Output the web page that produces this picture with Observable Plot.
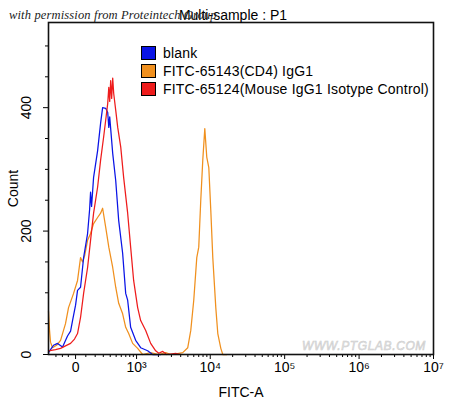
<!DOCTYPE html>
<html><head><meta charset="utf-8">
<script src="https://cdn.jsdelivr.net/npm/d3@7"></script>
<script src="https://cdn.jsdelivr.net/npm/@observablehq/plot@0.6"></script>
<style>
body{margin:0;background:#fff;}
#wrap{position:relative;width:450px;height:398px;font-family:"Liberation Sans",Arial,sans-serif;}
.wm{position:absolute;left:9px;top:8px;font-family:"Liberation Serif","DejaVu Serif",serif;font-style:italic;font-size:12.5px;color:#222;white-space:nowrap;letter-spacing:0.15px;}
.site{position:absolute;left:302px;top:339px;font-family:"Liberation Sans",Arial,sans-serif;font-style:italic;font-size:12px;color:#e6e6e6;-webkit-text-stroke:0.5px #cacaca;white-space:nowrap;letter-spacing:0.6px;}
.legend{position:absolute;left:141px;top:44px;font-size:14px;letter-spacing:0.2px;color:#000;}
.legend .row{height:18px;display:flex;align-items:center;white-space:nowrap;}
.legend .sw{width:13px;height:12px;border:1px solid #000;margin-right:7px;box-sizing:content-box;}
</style></head><body><div id="wrap"></div>
<script>
// ---- data (FITC-A intensity vs event count) ----
const seriesNames = ["blank", "FITC-65143(CD4) IgG1", "FITC-65124(Mouse IgG1 Isotype Control)"];
const seriesColors = ["#0a14e6", "#f0901e", "#ee1c1c"];

const blankFITC  = [-291,-265,-228,-182,-128,-78,-48,-29,0,19,48,78,118,139,149,160,182,228,265,291,333,362,378,392,440,492,548,629,698,746,824,971,1141,1425,1668,2148];
const blankCount = [3,8,15,18,12,30,38,55,80,104,109,157,196,235,263,240,287,330,375,400,399,392,368,385,326,282,217,164,99,88,44,23,11,6,0,0];

const cd4FITC  = [-291,-278,-265,-240,-193,-149,-98,-68,-19,19,48,68,88,118,149,182,228,265,291,333,378,440,492,548,629,698,772,880,1036,1215,1568,2021,2512,2946,3770,4266,4982,5472,6000,6590,7006,7456,7936,8448,8975,9564,10168,10819,11873,12633,13870,14741,16700];
const cd4Count = [70,40,20,11,15,23,50,76,99,120,157,150,160,185,196,212,222,229,237,206,174,141,109,83,66,44,34,18,10,0,3,0,3,0,2,3,11,39,88,157,174,250,315,366,320,303,234,157,76,34,10,0,0];

const isoFITC  = [-291,-205,-149,-98,-48,-10,19,48,78,118,149,182,228,265,304,333,362,378,392,407,423,440,457,492,529,589,651,746,824,909,1036,1141,1340,1568,1835,2021,2291,2592,3432,4015];
const isoCount = [6,8,10,14,18,25,34,60,99,141,185,229,271,315,352,380,407,433,410,444,415,448,423,396,368,336,287,229,174,120,76,55,39,18,6,2,5,0,2,0];

const xMajor = [0, 1e3, 1e4, 1e5, 1e6, 1e7];
const xMajorLabels = ["0", "10³", "10⁴", "10⁵", "10⁶", "10⁷"];
const xMinor = [-200,-130,-70,100,200,300,400,500,600,700,800,900,
  2e3,3e3,4e3,5e3,6e3,7e3,8e3,9e3, 2e4,3e4,4e4,5e4,6e4,7e4,8e4,9e4,
  2e5,3e5,4e5,5e5,6e5,7e5,8e5,9e5, 2e6,3e6,4e6,5e6,6e6,7e6,8e6,9e6];
const yMajor = [0, 200, 400];
const yMinor = [50, 100, 150, 250, 300, 350, 450, 500];
const xRange = [-291, 1e7];
const yRange = [0, 538];

// biexponential (arcsinh) display transform
const W = 310;
const T = v => Math.asinh(v / W) / Math.LN10;

const rows = [];
[[cd4FITC, cd4Count, 1], [blankFITC, blankCount, 0], [isoFITC, isoCount, 2]].forEach(([xs, ys, k]) => {
  xs.forEach((v, i) => rows.push({series: seriesNames[k], t: T(v), count: ys[i]}));
});
const labelMap = new Map(xMajor.map((v, i) => [T(v), xMajorLabels[i]]));

const chart = Plot.plot({
  width: 450, height: 398,
  marginLeft: 48, marginRight: 17, marginTop: 22, marginBottom: 44,
  x: {domain: xRange.map(T)},
  y: {domain: yRange},
  color: {domain: seriesNames, range: seriesColors},
  marks: [
    Plot.axisX({ticks: xMinor.map(T), tickSize: 3, tickFormat: () => "", label: null}),
    Plot.axisX({ticks: xMajor.map(T), tickSize: 5, tickPadding: 3, tickFormat: d => labelMap.get(d), label: "FITC-A", labelAnchor: "center", labelArrow: "none", labelOffset: 42, fontSize: 14, fontFamily: "Liberation Sans, Arial, sans-serif"}),
    Plot.axisY({ticks: yMinor, tickSize: 3, tickFormat: () => "", label: null}),
    Plot.axisY({ticks: yMajor, tickSize: 5, tickPadding: 13, tickRotate: -90, textAnchor: "middle", label: "Count", labelAnchor: "center", labelArrow: "none", labelOffset: 40, fontSize: 14, fontFamily: "Liberation Sans, Arial, sans-serif"}),
    Plot.line(rows, {x: "t", y: "count", z: "series", stroke: "series", strokeWidth: 1.25}),
    Plot.frame({stroke: "#111", strokeWidth: 1.6}),
    Plot.text(["Multi-sample : P1"], {frameAnchor: "top", dy: -12, dx: -8, fontSize: 14, fontFamily: "Liberation Sans, Arial, sans-serif"})
  ]
});

const wrap = document.getElementById("wrap");
wrap.appendChild(chart);

const wm = document.createElement("div");
wm.className = "wm";
wm.textContent = "with permission from Proteintech Group";
wrap.appendChild(wm);

const site = document.createElement("div");
site.className = "site";
site.textContent = "WWW.PTGLAB.COM";
wrap.appendChild(site);

const legend = document.createElement("div");
legend.className = "legend";
seriesNames.forEach((n, i) => {
  const r = document.createElement("div");
  r.className = "row";
  const sw = document.createElement("span");
  sw.className = "sw";
  sw.style.background = seriesColors[i];
  const tx = document.createElement("span");
  tx.textContent = n;
  r.appendChild(sw); r.appendChild(tx);
  legend.appendChild(r);
});
wrap.appendChild(legend);
</script>
</body></html>
